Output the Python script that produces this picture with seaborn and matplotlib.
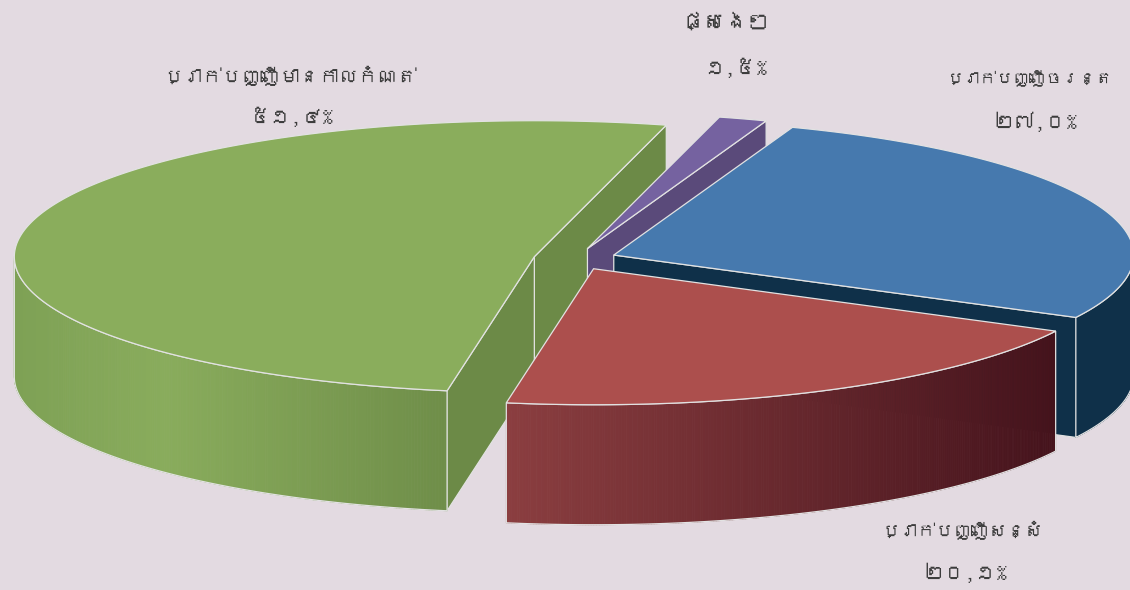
import numpy as np
import matplotlib
matplotlib.use("Agg")
import matplotlib.pyplot as plt
from matplotlib.patches import Polygon
from matplotlib.collections import PolyCollection
from matplotlib.colors import LinearSegmentedColormap
from matplotlib import font_manager
from matplotlib.ft2font import FT2Font
import seaborn as sns

# ---------------- data ----------------
categories = ["ប្រាក់បញ្ញើមានកាលកំណត់", "ប្រាក់បញ្ញើសន្សំ", "ប្រាក់បញ្ញើចរន្ត", "ផ្សេងៗ"]
values = [51.4, 20.1, 27.0, 1.5]

# ---------------- style ----------------
BG = "#E3DAE1"
top_colors = sns.color_palette(["#8AAD5C", "#AC4F4D", "#4679AE", "#7562A0"])
side_colors = sns.color_palette(["#6C8A47", "#8A3E40", "#0F3049", "#5A4A7A"])
outer_grad = [
    [(0.0, "#7EA155"), (0.35, "#89AC5C"), (1.0, "#6F8E49")],
    [(0.0, "#8B3E40"), (1.0, "#45131C")],
    [(0.0, "#0F3049"), (1.0, "#0F3049")],
    [(0.0, "#5A4A7A"), (1.0, "#5A4A7A")],
]
EDGE = "#E2E2E2"
CX, CY = 575.0, 259.0
RX, RY = 520.0, 136.0
H = 120.0
EXPLODE = 0.08
START = 75.3
wall_order = [0, 3, 2, 1]
label_pos = [((290, 76), (291, 117)),
             ((962, 530), (965, 573)),
             ((1030, 79), (1035, 122)),
             ((726, 22), (735, 68))]
name_sizes = [14, 13, 12, 16]
pct_size = 15

sns.set_theme(style="white")


def find_khmer():
    for fe in font_manager.fontManager.ttflist:
        try:
            if 0x1794 in FT2Font(fe.fname).get_charmap():
                return fe.name
        except Exception:
            pass
    return None


kh = find_khmer()
fam = [kh, "DejaVu Sans"] if kh else ["DejaVu Sans"]
plt.rcParams["font.family"] = fam

KH_DIGITS = str.maketrans("0123456789", "០១២៣៤៥៦៧៨៩")


def pct_label(v):
    return (f"{v:.1f}".replace(".", ",") + "%").translate(KH_DIGITS)


fig = plt.figure(figsize=(11.3, 5.9), dpi=100)
fig.patch.set_facecolor(BG)
ax = fig.add_axes([0, 0, 1, 1])
ax.set_facecolor(BG)
ax.set_xlim(0, 1130)
ax.set_ylim(590, 0)
ax.axis("off")

total = float(sum(values))
angles = []
t = START
for v in values:
    sw = v / total * 360.0
    angles.append((t, t + sw))
    t += sw


def origin(i):
    t0, t1 = angles[i]
    m = np.deg2rad((t0 + t1) / 2)
    return CX + EXPLODE * RX * np.cos(m), CY - EXPLODE * RY * np.sin(m)


def rim(ox, oy, th, dz=0.0):
    th = np.deg2rad(th)
    return ox + RX * np.cos(th), oy - RY * np.sin(th) + dz


# walls
for i in wall_order:
    t0, t1 = angles[i]
    ox, oy = origin(i)
    for th, vis in ((t0, np.cos(np.deg2rad(t0)) > 0), (t1, np.cos(np.deg2rad(t1)) < 0)):
        if vis:
            x, y = rim(ox, oy, th)
            poly = [(ox, oy), (x, y), (x, y + H), (ox, oy + H)]
            ax.add_patch(Polygon(poly, closed=True, facecolor=side_colors[i],
                                 edgecolor=EDGE, lw=0.9, zorder=2))
    cmap = LinearSegmentedColormap.from_list(f"g{i}", outer_grad[i])
    for k in (0, 1):
        lo = max(t0, 180 + 360 * k)
        hi = min(t1, 360 + 360 * k)
        if hi <= lo:
            continue
        ths = np.linspace(lo, hi, 240)
        xs, ys = rim(ox, oy, ths)
        xmin, xmax = xs.min(), xs.max()
        quads, cols = [], []
        for j in range(len(ths) - 1):
            quads.append([(xs[j], ys[j]), (xs[j + 1], ys[j + 1]),
                          (xs[j + 1], ys[j + 1] + H), (xs[j], ys[j] + H)])
            xm = 0.5 * (xs[j] + xs[j + 1])
            cols.append(cmap((xm - xmin) / max(xmax - xmin, 1e-6)))
        ax.add_collection(PolyCollection(quads, facecolors=cols, edgecolors=cols,
                                         linewidths=0.6, zorder=2))
        outline = list(zip(xs, ys)) + list(zip(xs[::-1], ys[::-1] + H))
        ax.add_patch(Polygon(outline, closed=True, facecolor="none",
                             edgecolor=EDGE, lw=0.9, zorder=2.5))

# tops
for i in range(len(values)):
    t0, t1 = angles[i]
    ox, oy = origin(i)
    ths = np.linspace(t0, t1, 300)
    xs, ys = rim(ox, oy, ths)
    poly = [(ox, oy)] + list(zip(xs, ys))
    ax.add_patch(Polygon(poly, closed=True, facecolor=top_colors[i],
                         edgecolor=EDGE, lw=0.9, zorder=3))

# labels
for i, (name, v) in enumerate(zip(categories, values)):
    (nx, ny), (px, py) = label_pos[i]
    ax.text(nx, ny, name, ha="center", va="center", fontsize=name_sizes[i],
            color="#3C3C3C", family=fam, zorder=5)
    ax.text(px, py, pct_label(v), ha="center", va="center", fontsize=pct_size,
            color="#3C3C3C", family=fam, zorder=5)

fig.savefig("out.png", dpi=100, facecolor=BG)
